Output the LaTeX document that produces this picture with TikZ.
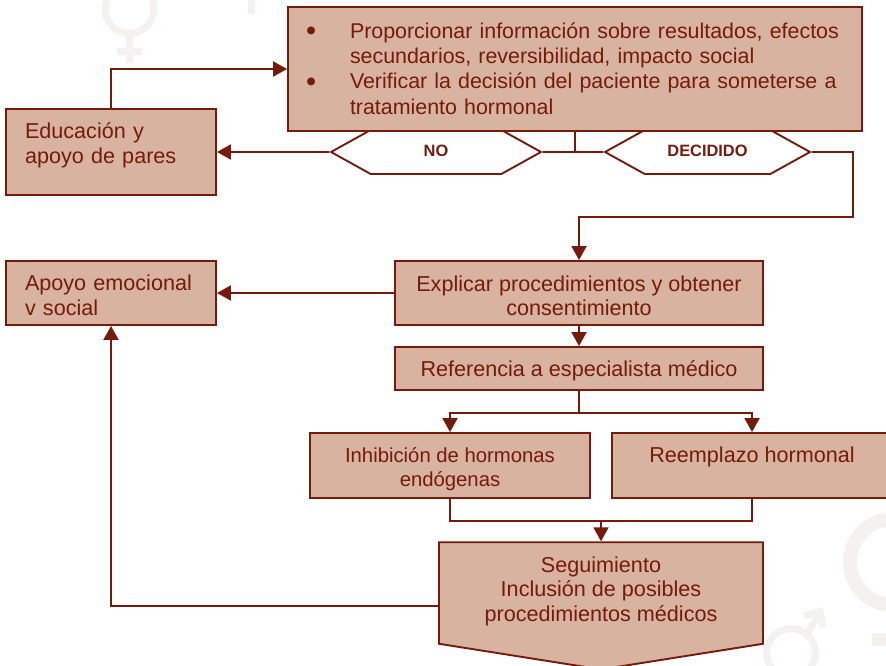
\documentclass[tikz,border=0pt]{standalone}
\usepackage{fontspec}
\setmainfont{Liberation Sans}
\usepackage{xcolor}
\usetikzlibrary{arrows.meta, shapes.symbols}

\definecolor{Vino}{HTML}{761A0C}
\definecolor{Piel}{HTML}{D7B3A0}
\definecolor{Marca}{HTML}{F4F1F0}

\newcommand{\vineta}{\smash{\raisebox{-2.5pt}{\scalebox{1.35}{\textbullet}}}}

\begin{document}
\begin{tikzpicture}[x=1pt, y=-1pt,
  caja/.style={rectangle, draw=Vino, fill=Piel, text=Vino, line width=1.9pt,
    font=\fontsize{21.6}{24.6}\selectfont, inner sep=0pt},
  %
  izq/.style={caja, align=left, text width=#1},
  %
  centro/.style={caja, align=center},
  %
  decision/.style={signal, signal to=west and east, signal pointer angle=58,
    draw=Vino, fill=white, text=Vino, line width=1.9pt, inner sep=0pt,
    minimum height=44pt, font=\fontsize{16.4}{18}\selectfont\bfseries},
  %
  flecha/.style={-{Triangle[length=14pt, width=15pt]}, draw=Vino, line width=1.9pt},
  %
  linea/.style={draw=Vino, line width=1.9pt},
  %
  marca/.style={draw=Marca, line width=7pt}
  ]

  \useasboundingbox (0,0) rectangle (886,666);

  % marcas de fondo
  \begin{scope}
    \draw [marca] (129.5,9) circle (24.5);
    \draw [marca] (129.5,37) -- (129.5,63) (117,52) -- (142,52);
    \draw [marca] (251,0) -- (251,14);
    \draw [marca, line width=14pt] (893,562) circle (43);
    \draw [marca] (791,653) circle (24.5);
    \draw [marca] (805,638) -- (817,617) (804,616) -- (820,611.5) -- (823,627);
    \draw [marca, line width=14pt] (879,633) -- (879,646);
  \end{scope}

  % decisiones, debajo de la caja superior
  \node [decision, minimum width=210pt] (no) at (436,152) {\raisebox{2pt}{NO}};
  \node [decision, minimum width=205pt] (decidido) at (707.5,152) {\raisebox{2pt}{DECIDIDO}};

  \node [izq=538pt, minimum width=574pt, minimum height=124pt, font=\fontsize{21.4}{25.3}\selectfont] (info) at (575,69) {%
    \raisebox{0pt}[60pt][45.2pt]{\begin{tabular}{@{}p{44pt}@{}l@{}}
      \vineta & Proporcionar información sobre resultados, efectos\\
      & secundarios, reversibilidad, impacto social\\
      \vineta & Verificar la decisión del paciente para someterse a\\
      & tratamiento hormonal
    \end{tabular}}};
  \node [izq=172pt, minimum width=210pt, minimum height=86pt, text depth=42pt] (educacion) at (111,152) {Educación y\\apoyo de pares};
  \node [izq=172pt, minimum width=210pt, minimum height=64pt, text height=20pt] (apoyo) at (111,293) {Apoyo emocional\\v social};
  \node [centro, minimum width=368pt, minimum height=64pt, text height=46pt] (explicar) at (579,293) {Explicar procedimientos y obtener\\consentimiento};
  \node [centro, minimum width=368pt, minimum height=43pt, text height=20pt] (referencia) at (579,368.5) {Referencia a especialista médico};
  \node [centro, minimum width=280pt, minimum height=65pt, text height=47pt, font=\fontsize{20.3}{24}\selectfont] (inhibicion) at (450,465.5) {Inhibición de hormonas\\endógenas};
  \node [centro, minimum width=280pt, minimum height=65pt, text depth=22pt] (reemplazo) at (752,465.5) {Reemplazo hormonal};
  \node [centro, signal, signal to=south, signal from=nowhere, signal pointer angle=162,
    minimum width=324pt, minimum height=120pt, text depth=8pt] (seguimiento) at (601,593) {Seguimiento\\Inclusión de posibles\\procedimientos médicos};

  \coordinate (codo) at (853,217.4);
  \coordinate (salida) at (439,606);

  \begin{scope}
    \draw [flecha] (educacion.north) |- (info.west);
    \draw [flecha] (no.west) -- (educacion.east);
    \draw [linea] (info.south) |- (no.east);
    \draw [linea] (no.east) -- (decidido.west);
    \draw [flecha] (decidido.east) -| (codo) -| (explicar.north);
    \draw [flecha] (explicar.west) -- (apoyo.east);
    \draw [flecha] (explicar.south) -- (referencia.north);
    \draw [linea] (referencia.south) -- ++(0,22) coordinate (reparto);
    \draw [flecha] (reparto) -| (inhibicion.north);
    \draw [flecha] (reparto) -| (reemplazo.north);
    \draw [linea] (inhibicion.south) |- ++(151,22) coordinate (union) -| (reemplazo.south);
    \draw [flecha] (union) -- (seguimiento.north);
    \draw [flecha] (salida) -| (apoyo.south);
  \end{scope}

\end{tikzpicture}
\end{document}
